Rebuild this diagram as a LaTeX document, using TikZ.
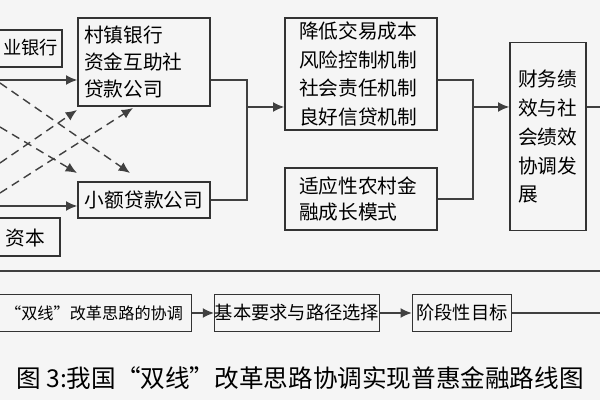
\documentclass[tikz,border=0pt]{standalone}
\usepackage{fontspec}
\newfontfamily\cjk{Noto Sans CJK SC}
\usetikzlibrary{arrows.meta,positioning}
\tikzset{
	box/.style={draw=black!80, line width=1pt, inner sep=0pt, align=left, font=\cjk\fontsize{14}{19}\selectfont},
	arr/.style={line width=1pt, draw=black!75, -{Latex[length=8pt,width=7pt]}},
	dasharr/.style={arr, dashed, dash pattern=on 6pt off 4pt},
	link/.style={line width=1pt, draw=black!75}
}
\begin{document}
\begin{tikzpicture}[x=0.025cm,y=-0.025cm]
	\useasboundingbox[fill=black!4] (0,0) rectangle (600,400);
	\clip (0,0) rectangle (600,400);
	% left boxes, partly cut off
	\draw[box] (-60,30) rectangle (62,67);
	\node[font=\cjk\fontsize{13}{17}\selectfont, anchor=west, inner xsep=0pt] (bank) at (3,48) {业银行};
	\draw[box] (-60,218) rectangle (60,256);
	\node[font=\cjk\fontsize{14}{19}\selectfont, anchor=east] (capital) at (50,238) {资本};
	% middle boxes
	\node[box, minimum width=132*0.025cm, minimum height=88*0.025cm, text width=120*0.025cm] (vbank) at (144,62) {村镇银行\\资金互助社\\贷款公司};
	\node[box, minimum width=132*0.025cm, minimum height=36*0.025cm, align=center] (micro) at (144,200) {小额贷款公司};
	\node[box, minimum width=152*0.025cm, minimum height=112*0.025cm, text width=124*0.025cm, font=\cjk\fontsize{14}{20.5}\selectfont] (mech) at (361,74) {降低交易成本\\风险控制机制\\社会责任机制\\良好信贷机制};
	\node[box, minimum width=152*0.025cm, minimum height=62*0.025cm, text width=124*0.025cm] (mode) at (361,199) {适应性农村金\\融成长模式};
	\node[box, minimum width=76*0.025cm, minimum height=188*0.025cm, text width=60*0.025cm, anchor=north, inner ysep=9pt, font=\cjk\fontsize{14}{20.5}\selectfont] (perf) at (548,42) {财务绩\\效与社\\会绩效\\协调发\\展};
	% inputs from the left
	\coordinate (in1) at (0,80);
	\coordinate (in2) at (0,206);
	\draw[arr] (in1) -- (in1 -| vbank.west);
	\draw[arr] (in2) -- (in2 -| micro.west);
	\draw[dasharr] (0,83) -- (130,173);
	\draw[dasharr] (0,127) -- (77,173);
	\draw[dasharr] (0,163) -- (77,110);
	\draw[dasharr] (0,193) -- (133,108);
	% joins
	\coordinate (j1) at (247,107);
	\coordinate (j2) at (473,107);
	\draw[link] (vbank.east |- 0,80) -| (j1) |- (micro.east);
	\draw[arr] (j1) -- (j1 -| mech.west);
	\draw[link] (mech.east |- 0,80) -| (j2) |- (mode.east);
	\draw[arr] (j2) -- (j2 -| perf.west);
	\draw[link] (perf.east |- j2) -- (600,107);
	% rule
	\draw[line width=1.2pt, black!75] (0,271) -- (600,271);
	% bottom row
	\node[box, minimum height=37*0.025cm, inner xsep=6pt, anchor=west, font=\cjk\fontsize{11.5}{15}\selectfont] (coord) at (-4,313) {“双线”改革思路的协调};
	\node[box, minimum width=160*0.025cm, minimum height=37*0.025cm, align=center, font=\cjk\fontsize{13}{17}\selectfont] (path) at (297,313) {基本要求与路径选择};
	\node[box, minimum width=99*0.025cm, minimum height=37*0.025cm, align=center, font=\cjk\fontsize{13}{17}\selectfont] (goal) at (462,313) {阶段性目标};
	\draw[arr] (coord) -- (path);
	\draw[arr] (path) -- (goal);
	\draw[link] (goal) -- (600,313);
	% caption
	\node[font=\cjk\fontsize{17.5}{20}\selectfont] (cap) at (300,378) {图 3:我国“双线”改革思路协调实现普惠金融路线图};
\end{tikzpicture}
\end{document}
